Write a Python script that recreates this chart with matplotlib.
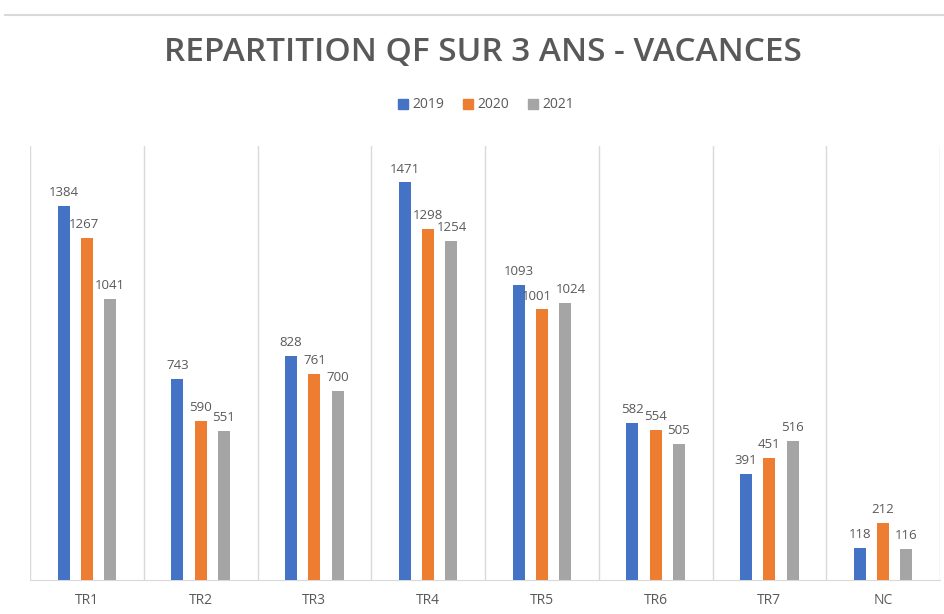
import matplotlib
matplotlib.use("Agg")
import matplotlib.pyplot as plt
import numpy as np
from matplotlib.lines import Line2D

categories = ["TR1", "TR2", "TR3", "TR4", "TR5", "TR6", "TR7", "NC"]
years = ["2019", "2020", "2021"]
v2019 = [1384, 743, 828, 1471, 1093, 582, 391, 118]
v2020 = [1267, 590, 761, 1298, 1001, 554, 451, 212]
v2021 = [1041, 551, 700, 1254, 1024, 505, 516, 116]
colors = ["#4472C4", "#ED7D31", "#A5A5A5"]
txt = "#595959"

plt.rcParams['font.family'] = ['Open Sans', 'DejaVu Sans']

fig = plt.figure(figsize=(9.44, 6.14), dpi=100)
W, H = 944, 614
ax = fig.add_axes([30 / W, (H - 580) / H, 910 / W, (580 - 146) / H])

x = np.arange(len(categories))
bw = 0.105
step = 0.205
nudge = {(1, 4): -4, (2, 4): 4, (1, 0): -2}
for i, (vals, c) in enumerate(zip([v2019, v2020, v2021], colors)):
    pos = x + (i - 1) * step
    ax.bar(pos, vals, width=bw, color=c, zorder=3)
    for j, (p, v) in enumerate(zip(pos, vals)):
        ax.annotate(str(v), (p, v), xytext=(nudge.get((i, j), 0), 5), textcoords="offset points",
                    ha="center", va="bottom", fontsize=9.5, color=txt)

ax.set_xlim(-0.5, len(categories) - 0.5)
ax.set_ylim(0, 1606)
ax.set_yticks([])
ax.set_xticks(x)
ax.set_xticklabels(categories, fontsize=10, color=txt)
ax.tick_params(axis='x', length=0, pad=9)
for b in np.arange(-0.5, len(categories), 1.0):
    ax.axvline(b, color="#D9D9D9", lw=1, zorder=1)
for s in ["top", "left", "right"]:
    ax.spines[s].set_visible(False)
ax.spines["bottom"].set_color("#D9D9D9")

# top border line of the chart area
fig.add_artist(Line2D([5 / W, 1.0], [1 - 15 / H, 1 - 15 / H], color="#D9D9D9", lw=1.5))

fig.text(483 / W, 1 - 53 / H, "REPARTITION QF SUR 3 ANS - VACANCES", ha="center", va="center",
         fontsize=24, fontweight="semibold", color=txt)

handles = [plt.Rectangle((0, 0), 1, 1, color=c) for c in colors]
fig.legend(handles, years, loc="center", bbox_to_anchor=(486 / W, 1 - 105 / H), ncol=3,
           frameon=False, fontsize=10, handlelength=0.7, handleheight=0.7,
           handletextpad=0.3, columnspacing=1.4, labelcolor=txt)

fig.savefig("out.png", dpi=100)
